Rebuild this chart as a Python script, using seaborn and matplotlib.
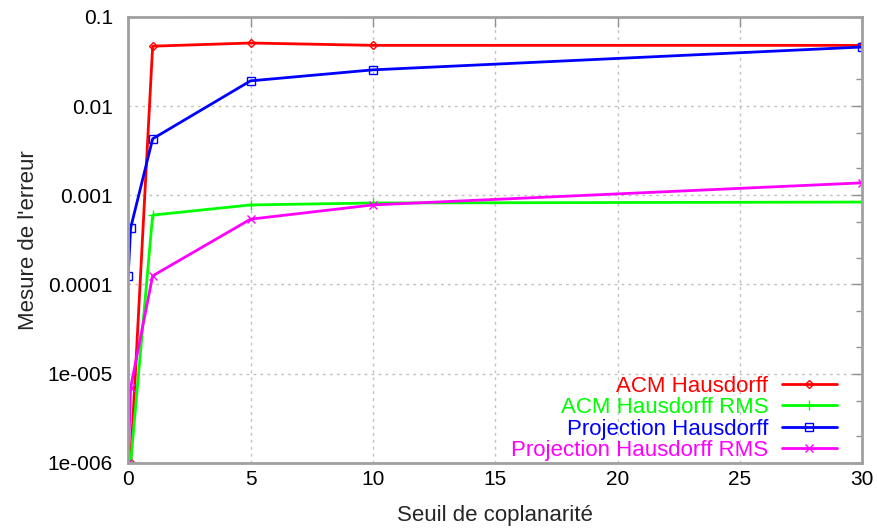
import numpy as np
import pandas as pd
import seaborn as sns
import matplotlib
matplotlib.use("Agg")
import matplotlib.pyplot as plt
from matplotlib.ticker import FixedLocator, FuncFormatter, LogLocator, NullFormatter

# data
x_acm = [0.1, 1, 5, 10, 30]
acm_hausdorff = [1.0e-6, 0.047, 0.051, 0.048, 0.048]
acm_rms = [1.0e-6, 6.0e-4, 7.8e-4, 8.2e-4, 8.4e-4]
x_proj = [0, 0.1, 1, 5, 10, 30]
proj_hausdorff = [1.25e-4, 4.3e-4, 0.0043, 0.0192, 0.0255, 0.046]
proj_rms = [1.0e-6, 7.0e-6, 1.25e-4, 5.4e-4, 7.8e-4, 1.38e-3]

labels = ["ACM Hausdorff", "ACM Hausdorff RMS", "Projection Hausdorff", "Projection Hausdorff RMS"]
y_ticks = [1e-6, 1e-5, 1e-4, 1e-3, 1e-2, 1e-1]
y_tick_labels = ["1e-006", "1e-005", "0.0001", "0.001", "0.01", "0.1"]

sns.set_style("white")
plt.rcParams['font.family'] = ['Liberation Sans', 'DejaVu Sans']

fig = plt.figure(figsize=(8.78, 5.29), dpi=100)
ax = fig.add_axes([0.146, 0.125, 0.836, 0.843])

series = [
    (x_acm, acm_hausdorff, "#ff0000", "D", 4),
    (x_acm, acm_rms, "#00ff00", "+", 7),
    (x_proj, proj_hausdorff, "#0000ff", "s", 6),
    (x_proj, proj_rms, "#ff00ff", "x", 6),
]
for (xs, ys, col, mk, ms), lab in zip(series, labels):
    df = pd.DataFrame({"x": xs, "y": ys})
    sns.lineplot(data=df, x="x", y="y", ax=ax, color=col, linewidth=2, label=lab,
                 marker=mk, markersize=ms, markerfacecolor="none", markeredgecolor=col,
                 markeredgewidth=1, sort=False)

ax.set_yscale("log")
ax.set_xlim(0, 30)
ax.set_ylim(1e-6, 0.1)
ax.set_xticks([0, 5, 10, 15, 20, 25, 30])
ax.yaxis.set_major_locator(FixedLocator(y_ticks))
ax.yaxis.set_major_formatter(FuncFormatter(lambda v, p: y_tick_labels[y_ticks.index(v)] if v in y_ticks else ""))
ax.yaxis.set_minor_locator(LogLocator(base=10, subs=[2, 5]))
ax.yaxis.set_minor_formatter(NullFormatter())

ax.grid(True, which="major", linestyle=(0, (2, 3)), color="#c0c0c0", linewidth=1)
ax.tick_params(which="both", direction="in", top=True, right=True, colors="#909090",
               labelcolor="black", labelsize=15)
ax.tick_params(which="major", length=7, width=1)
ax.tick_params(axis="y", which="major", pad=11)
ax.tick_params(axis="x", which="major", pad=5)
ax.tick_params(which="minor", length=4, width=1)
for s in ax.spines.values():
    s.set_color("#a0a0a0")
    s.set_linewidth(2)

ax.set_xlabel("Seuil de coplanarité", fontsize=16, labelpad=12)
ax.set_ylabel("Mesure de l'erreur", fontsize=16, labelpad=6)

leg = ax.legend(loc="lower right", bbox_to_anchor=(0.966, 0.004), frameon=False,
                markerfirst=False, fontsize=16, labelcolor="linecolor",
                handlelength=2.5, labelspacing=0.02, borderaxespad=0, borderpad=0,
                handletextpad=0.6)

fig.savefig("out.png", dpi=100)
